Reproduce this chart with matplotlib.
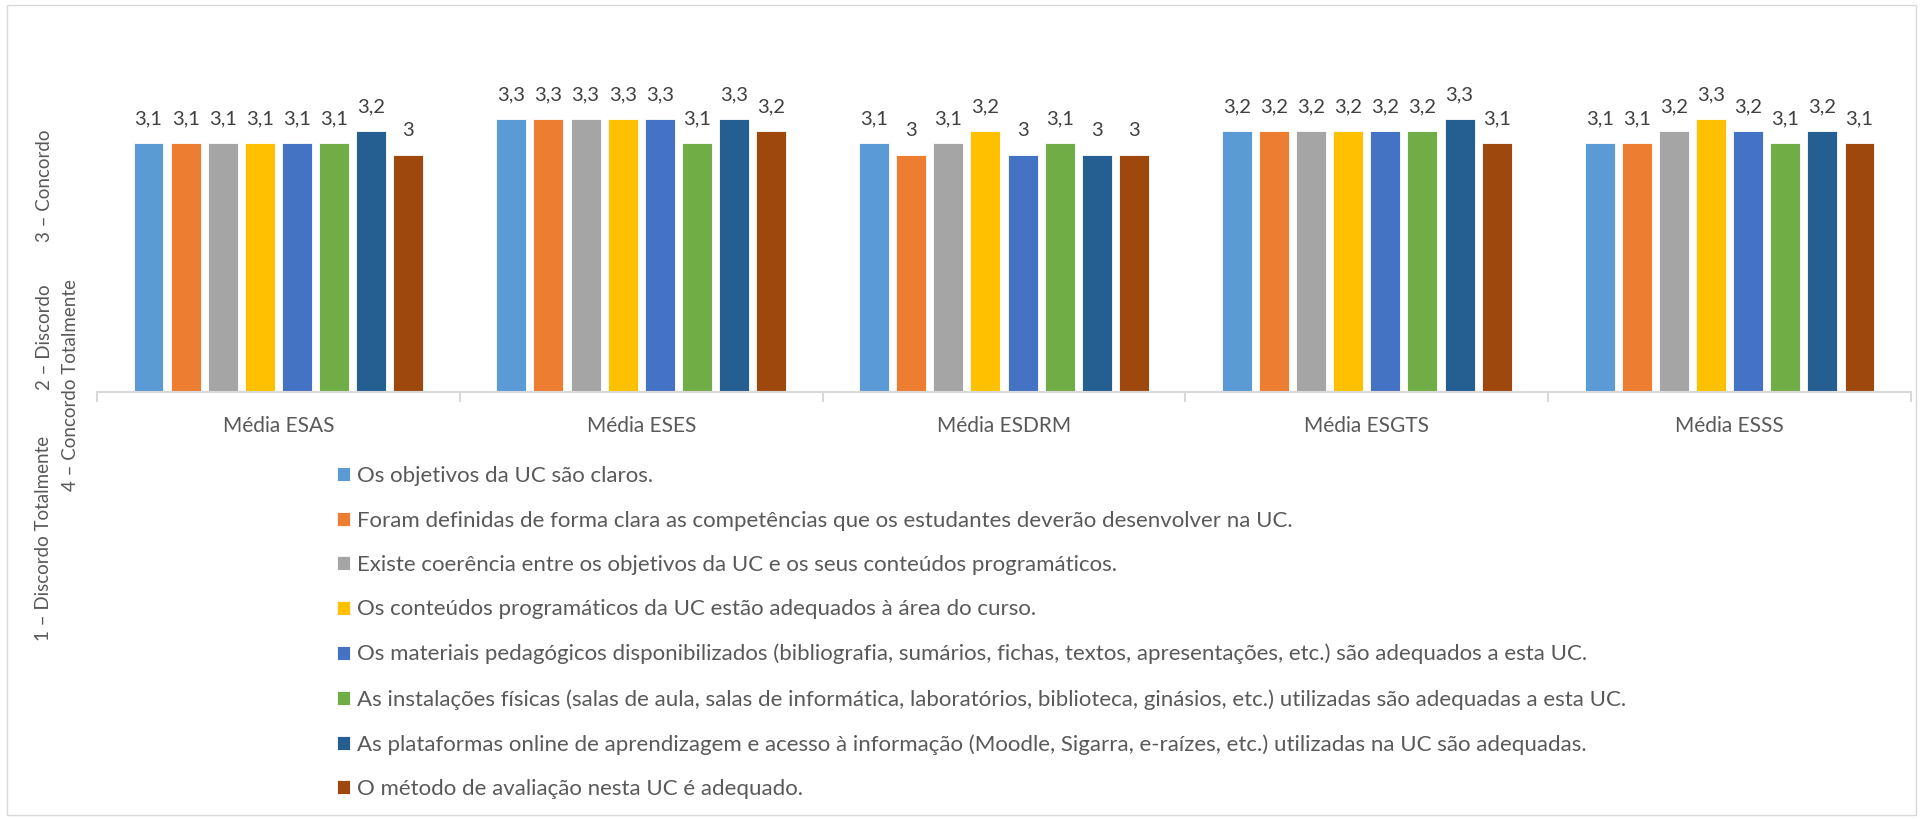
import numpy as np
import matplotlib.pyplot as plt
from matplotlib.patches import Rectangle

plt.rcParams['font.family'] = ['Lato', 'DejaVu Sans']

groups = ["Média ESAS", "Média ESES", "Média ESDRM", "Média ESGTS", "Média ESSS"]
series = [
    "Os objetivos da UC são claros.",
    "Foram definidas de forma clara as competências que os estudantes deverão desenvolver na UC.",
    "Existe coerência entre os objetivos da UC e os seus conteúdos programáticos.",
    "Os conteúdos programáticos da UC estão adequados à área do curso.",
    "Os materiais pedagógicos disponibilizados (bibliografia, sumários, fichas, textos, apresentações, etc.) são adequados a esta UC.",
    "As instalações físicas (salas de aula, salas de informática, laboratórios, biblioteca, ginásios, etc.) utilizadas são adequadas a esta UC.",
    "As plataformas online de aprendizagem e acesso à informação (Moodle, Sigarra, e-raízes, etc.) utilizadas na UC são adequadas.",
    "O método de avaliação nesta UC é adequado.",
]
colors = ["#5B9BD5", "#ED7D31", "#A5A5A5", "#FFC000", "#4472C4", "#70AD47", "#255E91", "#9E480E"]

# values per group (rows) x series (columns)
esas = [3.1, 3.1, 3.1, 3.1, 3.1, 3.1, 3.2, 3.0]
eses = [3.3, 3.3, 3.3, 3.3, 3.3, 3.1, 3.3, 3.2]
esdrm = [3.1, 3.0, 3.1, 3.2, 3.0, 3.1, 3.0, 3.0]
esgts = [3.2, 3.2, 3.2, 3.2, 3.2, 3.2, 3.3, 3.1]
esss = [3.1, 3.1, 3.2, 3.3, 3.2, 3.1, 3.2, 3.1]
values = np.array([esas, eses, esdrm, esgts, esss])

# y axis title pieces (Likert scale)
scale_labels = ["1 – Discordo Totalmente", "2 – Discordo", "3 – Concordo", "4 – Concordo Totalmente"]

W, H = 1923, 819
fig = plt.figure(figsize=(W / 100, H / 100), dpi=100)
ax = fig.add_axes([97 / W, 1 - 392 / H, 1814 / W, 356 / H])

x = np.arange(len(groups))
slot = 0.1023
bw = 0.0826
base = 1
for j in range(len(series)):
    pos = x - 4 * slot + (j + 0.5) * slot
    bars = ax.bar(pos, values[:, j] - base, bw, bottom=base, color=colors[j],
                  edgecolor="white", linewidth=0.6, label=series[j])
    for p, v in zip(pos, values[:, j]):
        ax.annotate(f"{v:g}".replace(".", ","), (p, v),
                    xytext=(0, 11), textcoords="offset points",
                    ha="center", va="bottom", fontsize=14.5, color="#404040")

ax.set_ylim(1, 4)
ax.set_xlim(-0.5, len(groups) - 0.5)

ax.set_yticks([])
for s in ["top", "right", "left"]:
    ax.spines[s].set_visible(False)
ax.spines["bottom"].set_color("#D9D9D9")
ax.spines["bottom"].set_linewidth(1.5)
ax.set_xticks(x)
ax.set_xticklabels(groups, fontsize=15, color="#595959")
ax.tick_params(axis="x", which="major", length=0, pad=17)
ax.set_xticks(np.arange(len(groups) + 1) - 0.5, minor=True)
ax.tick_params(axis="x", which="minor", length=7, color="#D9D9D9", width=1.5)

# y axis title (two wrapped lines, drawn piece by piece)
yl_kw = dict(rotation=90, ha="center", va="center", color="#595959", fontsize=13.5)
fig.text(44 / W, 1 - 538 / H, scale_labels[0], **yl_kw)
fig.text(44 / W, 1 - 337 / H, scale_labels[1], **yl_kw)
fig.text(44 / W, 1 - 186 / H, scale_labels[2], **yl_kw)
fig.text(71 / W, 1 - 385 / H, scale_labels[3], **yl_kw)

handles, labels = ax.get_legend_handles_labels()
leg = fig.legend(handles, labels, loc="upper left", bbox_to_anchor=(326 / W, 1 - 455 / H),
                 ncol=1, frameon=False, fontsize=16, handlelength=0.6, handleheight=0.6,
                 handletextpad=0.3, labelspacing=1.1, labelcolor="#595959", borderpad=0)

fig.patches.append(Rectangle((7 / W, 1 - 815 / H), 1909 / W, 810 / H, transform=fig.transFigure,
                             fill=False, edgecolor="#D9D9D9", linewidth=1))

fig.savefig("out.png", dpi=100)
